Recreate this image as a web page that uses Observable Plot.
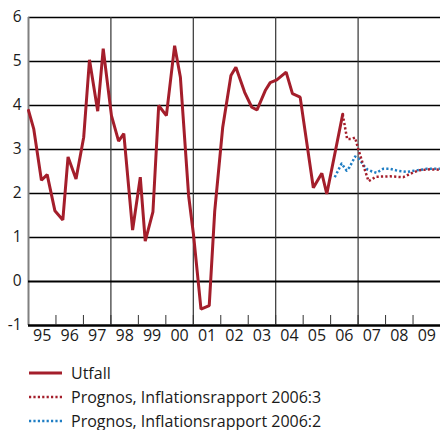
<!DOCTYPE html>
<html><head><meta charset="utf-8">
<script src="https://cdn.jsdelivr.net/npm/d3@7"></script>
<script src="https://cdn.jsdelivr.net/npm/@observablehq/plot@0.6"></script>
<style>
html,body{margin:0;padding:0;background:#fff;}
body{font-family:"Open Sans",sans-serif;color:#1a1a1a;width:440px;height:430px;overflow:hidden}
#legend{margin-left:29px;margin-top:11px}
.row{display:flex;align-items:center;height:24px;font-size:16px;white-space:nowrap}
.row svg{margin-right:9px;flex:none}
</style></head><body>
<div id="chart"></div>
<div id="legend"></div>
<script>
// Utfall (outcome), decimal year and value
const utfallYear = [1995.00,1995.19,1995.47,1995.68,1995.96,1996.25,1996.44,1996.73,1997.01,1997.22,1997.52,1997.72,1998.02,1998.28,1998.47,1998.79,1999.07,1999.25,1999.53,1999.74,2000.02,2000.32,2000.53,2000.83,2001.01,2001.28,2001.58,2001.78,2002.07,2002.37,2002.55,2002.87,2003.13,2003.32,2003.62,2003.80,2004.04,2004.38,2004.61,2004.89,2005.37,2005.68,2005.86,2006.44];
const utfallValue = [3.89,3.47,2.30,2.43,1.61,1.40,2.83,2.33,3.28,5.04,3.87,5.29,3.77,3.19,3.36,1.17,2.37,0.92,1.58,4.00,3.77,5.36,4.64,1.95,1.05,-0.63,-0.55,1.60,3.50,4.68,4.87,4.30,3.96,3.90,4.34,4.52,4.58,4.76,4.27,4.19,2.13,2.46,1.99,3.80];
// Prognos, Inflationsrapport 2006:3
const prog3Year = [2006.44,2006.60,2006.75,2006.89,2007.01,2007.19,2007.38,2007.65,2008.16,2008.64,2009.01,2009.25,2009.62,2009.98];
const prog3Value = [3.80,3.24,3.24,3.27,3.00,2.64,2.28,2.38,2.39,2.37,2.48,2.53,2.55,2.54];
// Prognos, Inflationsrapport 2006:2
const prog2Year = [2006.15,2006.40,2006.58,2006.69,2006.89,2007.02,2007.20,2007.33,2007.51,2007.67,2007.91,2008.16,2008.42,2008.78,2009.07,2009.51,2009.98];
const prog2Value = [2.37,2.68,2.52,2.60,2.84,2.80,2.64,2.55,2.50,2.47,2.56,2.56,2.52,2.49,2.52,2.56,2.56];

const years = [1995,1996,1997,1998,1999,2000,2001,2002,2003,2004,2005,2006,2007,2008,2009];
const xLabels = ["95","96","97","98","99","00","01","02","03","04","05","06","07","08","09"];
const gridYears = [1998,2001,2004,2007];
const yTicks = [-1,0,1,2,3,4,5,6];

const seriesNames = ["Utfall","Prognos, Inflationsrapport 2006:3","Prognos, Inflationsrapport 2006:2"];
const red = "#a41e2b", blue = "#1f7ec4";

const toRows = (xs, vs) => xs.map((x, i) => ({year: x, value: vs[i]}));
const utfall = toRows(utfallYear, utfallValue);
const prog3 = toRows(prog3Year, prog3Value);
const prog2 = toRows(prog2Year, prog2Value);

const dotted = {strokeWidth: 2.5, strokeDasharray: "2.2,2.2", strokeLinecap: "butt"};

const chart = Plot.plot({
  width: 440, height: 350,
  marginLeft: 28, marginRight: 0, marginTop: 17, marginBottom: 25,
  x: {domain: [1995, 2010], label: null},
  y: {domain: [-1, 6], label: null},
  style: {fontFamily: "'Open Sans', sans-serif", fontSize: "15.5px", color: "#1a1a1a", background: "white", overflow: "visible"},
  marks: [
    Plot.ruleY(yTicks.filter(v => v > 0), {stroke: "#000", strokeWidth: 1.4}),
    Plot.ruleX(gridYears, {stroke: "#333", strokeWidth: 1.2}),
    Plot.ruleX([years[0]], {stroke: "#808080", strokeWidth: 2}),
    Plot.ruleY([0], {stroke: "#000", strokeWidth: 2}),
    Plot.ruleY([-1], {stroke: "#000", strokeWidth: 2.5}),
    Plot.axisX(years.slice(1), {anchor: "bottom", tickSize: 10, dy: -10, tickFormat: () => "", stroke: "#333", label: null}),
    Plot.axisX(years.map(y => y + 0.5), {anchor: "bottom", tickSize: 0, tickPadding: 4, fontSize: 16, tickFormat: (d) => xLabels[Math.floor(d) - years[0]], label: null}),
    Plot.axisY(yTicks, {anchor: "left", tickSize: 0, tickPadding: 7, tickFormat: d => String(d), label: null}),
    Plot.line(prog2, {x: "year", y: "value", stroke: blue, ...dotted}),
    Plot.line(prog3, {x: "year", y: "value", stroke: red, ...dotted}),
    Plot.line(utfall, {x: "year", y: "value", stroke: red, strokeWidth: 3, strokeLinejoin: "miter"})
  ]
});
document.getElementById("chart").appendChild(chart);

const legend = document.getElementById("legend");
const styles = [
  {stroke: red, dash: null},
  {stroke: red, dash: "2.2,2.2"},
  {stroke: blue, dash: "2.2,2.2"}
];
seriesNames.forEach((name, i) => {
  const row = document.createElement("div");
  row.className = "row";
  const s = styles[i];
  row.innerHTML = `<svg width="33" height="24"><line x1="0" x2="33" y1="12" y2="12" stroke="${s.stroke}" stroke-width="${s.dash ? 2.5 : 3}" ${s.dash ? `stroke-dasharray="${s.dash}"` : ""}/></svg><span>${name}</span>`;
  legend.appendChild(row);
});
</script>
</body></html>
